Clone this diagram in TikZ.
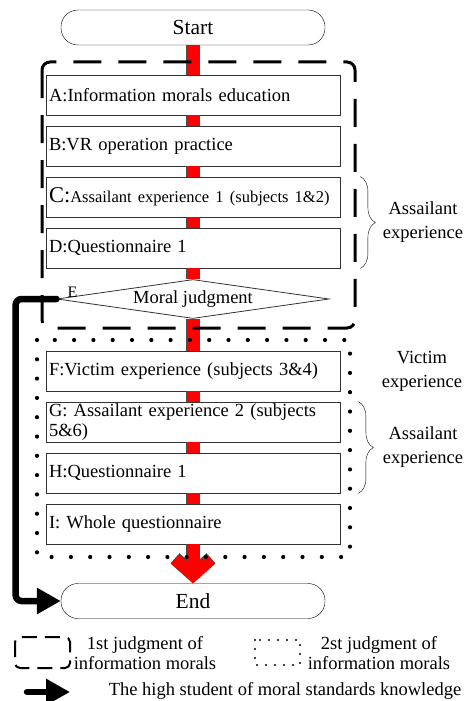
\documentclass[tikz,border=0pt]{standalone}
\usepackage{fontspec}
\setmainfont{Liberation Serif}
\usetikzlibrary{positioning, shapes.geometric, arrows.meta, decorations.pathreplacing}

\begin{document}
\begin{tikzpicture}[x=1pt, y=-1pt, node distance=51pt,
  term/.style = {draw, rounded corners=17pt, fill=white, minimum width=264pt, minimum height=35pt, font=\fontsize{21.5}{24}\selectfont},
  stage/.style = {draw=black!80, line width=0.8pt, fill=white, minimum width=294pt, minimum height=40pt, text width=288pt, inner xsep=3pt, inner ysep=1pt, align=left, font=\fontsize{18.5}{20}\selectfont},
  judge/.style = {draw=black!80, line width=0.8pt, diamond, aspect=7, fill=white, minimum width=272pt, minimum height=39pt, inner sep=0pt, font=\fontsize{18.5}{20}\selectfont},
  side/.style = {align=center, font=\fontsize{18.5}{24}\selectfont},
  legtext/.style = {align=center, font=\fontsize{18.5}{20}\selectfont},
  redbar/.style = {line width=12pt, red, preaction={draw=black!70, line width=13.5pt}},
  highpath/.style = {line width=6.5pt, line cap=round, rounded corners=6pt, -{Triangle[length=24pt, width=25pt]}},
  frameone/.style = {line width=3pt, dash pattern=on 28pt off 17pt, rounded corners=8pt},
  frametwo/.style = {line width=4.2pt, line cap=round, dash pattern=on 0pt off 19.3pt},
  bracket/.style = {decorate, decoration={brace, amplitude=15pt}, thin}]

  \useasboundingbox (0,0) rectangle (465,701);

  \node[term] (start) at (193,27.5) {Start};
  \node[stage] (A) [below of=start, node distance=67.5pt] {A:Information morals education};
  \node[stage] (B) [below of=A] {B:VR operation practice};
  \node[stage] (C) [below of=B] {{\fontsize{22.5}{24}\selectfont C:}{\fontsize{16.5}{20}\selectfont Assailant experience 1 (subjects 1\&2)}};
  \node[stage] (D) [below of=C] {D:Questionnaire 1};
  \node[judge] (E) [below of=D] {Moral judgment};
  \node[stage] (F) [below of=E, node distance=72pt] {F:Victim experience (subjects 3\&4)};
  \node[stage] (G) [below of=F] {G: Assailant experience 2 (subjects\\5\&6)};
  \node[stage] (H) [below of=G] {H:Questionnaire 1};
  \node[stage] (I) [below of=H] {I: Whole questionnaire};
  \node[term] (end) [below of=I, node distance=77pt] {End};
  \node[font=\fontsize{16}{18}\selectfont] (elbl) at (72.5,292) {E};

  % red main line
  \draw[redbar] (start.south) -- (A.north);
  \draw[redbar] (A.south) -- (B.north);
  \draw[redbar] (B.south) -- (C.north);
  \draw[redbar] (C.south) -- (D.north);
  \draw[redbar] (D.south) -- (E.north);
  \draw[redbar] (E.south) -- (F.north);
  \draw[redbar] (F.south) -- (G.north);
  \draw[redbar] (G.south) -- (H.north);
  \draw[redbar] (H.south) -- (I.north);
  \draw[redbar, -{Straight Barb[sharp, length=16pt, width=36pt]}] (I.south) -- (end.north);

  % frames
  \draw[frameone] (42,62) rectangle (355,328);
  \draw[frametwo] (37,340) rectangle (350,557);

  % high student path
  \draw[highpath] (E.west) -- ++(-41,0) |- (end.west);

  % side notes
  \draw[bracket] ([xshift=20pt]C.north east) -- ([xshift=20pt]D.south east)
    node[side, midway, right=19pt] (asone) {Assailant\\experience};
  \node[side] (victim) [right=38pt of F] {Victim\\experience};
  \draw[bracket] ([xshift=18pt]G.north east) -- ([xshift=18pt]H.south east)
    node[side, midway, right=21pt] (astwo) {Assailant\\experience};

  % legend
  \draw[line width=2pt, dash pattern=on 15pt off 8pt, rounded corners=5pt] (15,637) rectangle (70,668);
  \node[legtext] (lgone) at (145,653) {1st judgment of\\information morals};
  \draw[line width=2.2pt, line cap=round, dash pattern=on 0pt off 9pt] (255,640) rectangle (300,665);
  \node[legtext] (lgtwo) at (379,653) {2st judgment of\\information morals};
  \coordinate (kfrom) at (27,692);
  \coordinate (kto) at (70,692);
  \draw[highpath] (kfrom) -- (kto);
  \node[legtext] (lgthree) at (285,691) {The high student of moral standards knowledge};
\end{tikzpicture}
\end{document}
